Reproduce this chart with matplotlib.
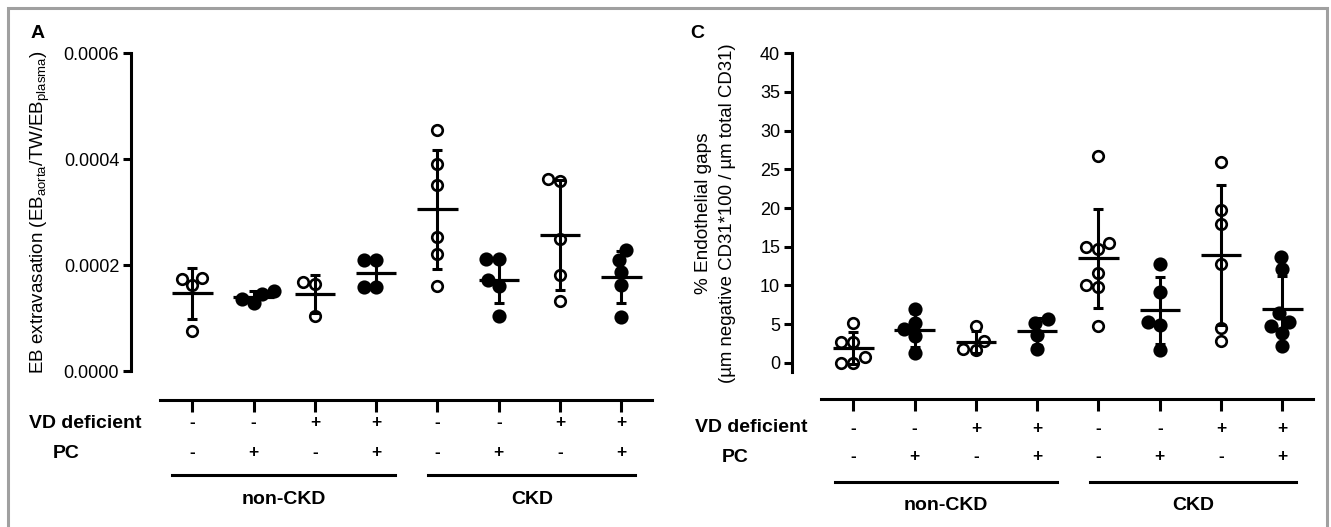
import numpy as np
import matplotlib
matplotlib.use("Agg")
import matplotlib.pyplot as plt
from matplotlib.patches import Rectangle

plt.rcParams['font.family'] = ['Liberation Sans', 'DejaVu Sans']
plt.rcParams['mathtext.default'] = 'regular'

# groups (same order in both panels)
vd_deficient = ['-', '-', '+', '+', '-', '-', '+', '+']
pc = ['-', '+', '-', '+', '-', '+', '-', '+']
ckd_groups = ['non-CKD', 'CKD']

# panel A: EB extravasation, one list per group
eb_values = [
    [0.000174, 0.000162, 0.000176, 0.0000755],
    [0.000145, 0.000128, 0.000136, 0.000151],
    [0.000168, 0.000164, 0.000104],
    [0.000209, 0.000209, 0.000159, 0.000159],
    [0.000455, 0.000391, 0.000351, 0.000253, 0.000221, 0.000160],
    [0.000211, 0.000211, 0.000172, 0.000161, 0.000104],
    [0.000362, 0.000359, 0.000249, 0.000181, 0.000133],
    [0.000209, 0.000228, 0.000186, 0.000162, 0.000101],
]
eb_ticks = [0.0, 0.0002, 0.0004, 0.0006]

# panel C: % endothelial gaps
gap_values = [
    [5.2, 2.7, 2.7, 0.7, 0.0, 0.0],
    [7.0, 5.2, 4.3, 3.4, 1.2],
    [4.7, 2.8, 1.6, 1.8],
    [5.2, 5.6, 3.6, 1.8],
    [26.7, 15.5, 14.7, 15.0, 11.6, 10.0, 9.8, 4.8],
    [12.8, 9.1, 5.3, 4.9, 1.7],
    [25.9, 19.8, 17.9, 12.8, 4.5, 2.8],
    [13.7, 12.1, 6.4, 5.3, 4.7, 3.9, 2.2],
]
gap_ticks = [0, 5, 10, 15, 20, 25, 30, 35, 40]

W, H = 1331, 527
fig = plt.figure(figsize=(W / 100, H / 100), dpi=100)


def px(x, y):
    # image pixel -> figure fraction
    return x / W, 1 - y / H


def swarm(ax, vals, xc, diam=12.5):
    # simple beeswarm in display pixels, placed from the lowest value up
    pts = ax.transData.transform(np.column_stack([np.full(len(vals), xc), vals]))
    ys = pts[:, 1]
    x0 = pts[0, 0]
    xs = np.zeros(len(vals))
    placed = []
    for i in np.argsort(ys, kind='stable'):
        y = ys[i]
        cands = [0.0]
        for (qx, qy) in placed:
            dy = y - qy
            if abs(dy) < diam:
                dx = np.sqrt(diam ** 2 - dy ** 2)
                cands += [qx + dx, qx - dx]
        cands.sort(key=lambda c: (round(abs(c), 3), c))
        for c in cands:
            if all((c - qx) ** 2 + (y - qy) ** 2 >= diam ** 2 - 1e-6 for qx, qy in placed):
                xs[i] = c
                break
        placed.append((xs[i], y))
    back = ax.transData.inverted().transform(np.column_stack([x0 + xs, ys]))
    return back[:, 0]


def panel(left, right, top, bottom, data, ylim, ticks, ticklabels, tsize):
    x0, y0 = px(left, bottom)
    x1, y1 = px(right, top)
    ax = fig.add_axes([x0, y0, x1 - x0, y1 - y0])
    n = len(data)
    ax.set_xlim(0, n + 0.5)
    ax.set_ylim(*ylim)
    for s in ['top', 'right', 'bottom']:
        ax.spines[s].set_visible(False)
    ax.spines['left'].set_linewidth(2.2)
    ax.set_xticks([])
    ax.set_yticks(ticks)
    ax.set_yticklabels(ticklabels, fontsize=tsize)
    ax.tick_params(axis='y', width=2.2, length=5.5, pad=3)
    for i, vals in enumerate(data):
        xc = i + 1
        vals = np.array(vals)
        xs = swarm(ax, vals, xc)
        filled = pc[i] == '+'
        ax.plot(xs, vals, 'o', ms=8.3 if filled else 7.6, mew=1.9, mec='black',
                mfc='black' if filled else 'white', ls='none', zorder=2, clip_on=False)
        m = vals.mean()
        sd = vals.std(ddof=1)
        ax.hlines(m, xc - 0.33, xc + 0.33, color='black', lw=2.3, zorder=3)
        ax.errorbar(xc, m, yerr=sd, fmt='none', ecolor='black', elinewidth=2.2,
                    capsize=3.8, capthick=2.2, zorder=3)
    return ax


def table(ax_left, ax_right, line_y, rows_y, brk_y, lab_y, brk_x, lab_x):
    # table under the plot, x in group units, y in image pixel rows
    x0, y0 = px(ax_left, H)
    x1, y1 = px(ax_right, 385)
    tx = fig.add_axes([x0, y0, x1 - x0, y1 - y0])
    tx.set_xlim(0, 8.5)
    tx.set_ylim(H, 385)
    tx.axis('off')
    n = len(vd_deficient)
    pos = np.arange(1, n + 1)
    tx.plot([0.48, n + 0.5], [line_y, line_y], color='black', lw=2.2, clip_on=False)
    tx.vlines(pos, line_y, line_y + 12, color='black', lw=2.2)
    for p, v, c in zip(pos, vd_deficient, pc):
        tx.text(p, rows_y[0], v, ha='center', va='center', fontsize=12.5, fontweight='bold')
        tx.text(p, rows_y[1], c, ha='center', va='center', fontsize=12.5, fontweight='bold')
    tx.text(lab_x[0], rows_y[0], 'VD deficient', ha='center', va='center',
            fontsize=14, fontweight='bold', clip_on=False)
    tx.text(lab_x[1], rows_y[1], 'PC', ha='center', va='center',
            fontsize=14, fontweight='bold', clip_on=False)
    for (a, b), name in zip(brk_x, ckd_groups):
        tx.plot([a, b], [brk_y, brk_y], color='black', lw=2.2)
        tx.text((a + b) / 2, lab_y, name, ha='center', va='center',
                fontsize=14, fontweight='bold')


# panel A
axA = panel(131, 652, 53, 371, eb_values, (0, 0.0006), eb_ticks,
            ['%.4f' % t for t in eb_ticks], 13)
fig.text(*px(40, 212), r'EB extravasation (EB$_{aorta}$/TW/EB$_{plasma}$)',
         rotation=90, ha='center', va='center', fontsize=13.5)
fig.text(*px(38, 33), 'A', ha='center', va='center', fontsize=14, fontweight='bold')
table(131, 652, 400, (423, 453), 475, 499, [(0.67, 4.31), (4.85, 8.23)], (-0.75, -1.05))

# panel C
axC = panel(792, 1313, 53.3, 371.7, gap_values, (-1.16, 40), gap_ticks,
            [str(t) for t in gap_ticks], 13)
fig.text(*px(703, 213), '% Endothelial gaps', rotation=90, ha='center', va='center',
         fontsize=13.7)
fig.text(*px(727, 213), '(\u00b5m negative CD31*100 / \u00b5m total CD31)', rotation=90,
         ha='center', va='center', fontsize=13.4)
fig.text(*px(697, 33), 'C', ha='center', va='center', fontsize=14, fontweight='bold')
table(792, 1313, 399, (428, 457), 482, 506, [(0.70, 4.32), (4.86, 8.22)], (-0.67, -0.93))

# grey frame around the figure
fig.patches.append(Rectangle(px(8, 530), (1327 - 8) / W, (530 - 8) / H,
                             transform=fig.transFigure, fill=False,
                             edgecolor='#a0a0a0', lw=2.2))

fig.savefig('out.png', dpi=100)
